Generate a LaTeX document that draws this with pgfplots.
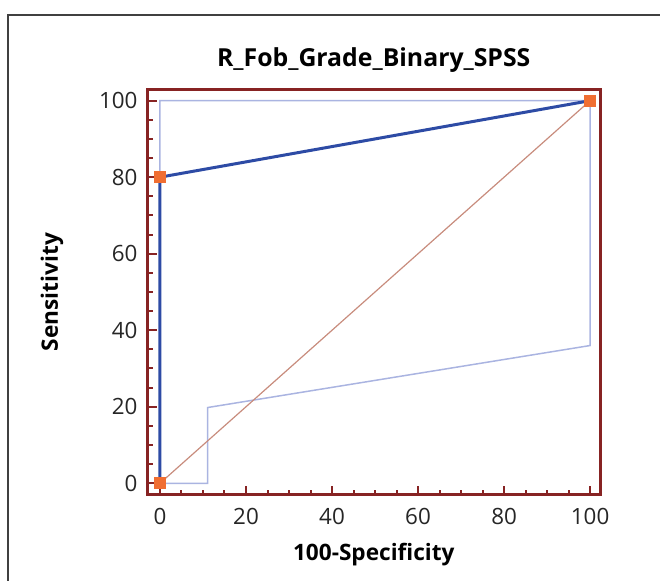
\documentclass[border=0pt]{standalone}
\usepackage{fontspec}
\setmainfont{Open Sans}
\usepackage{pgfplots}
\pgfplotsset{compat=1.18}
\definecolor{axred}{RGB}{135,35,35}
\definecolor{rocblue}{RGB}{45,75,165}
\definecolor{bandblue}{RGB}{170,180,225}
\definecolor{diagcol}{RGB}{200,140,125}
\definecolor{markorange}{RGB}{240,110,50}
\begin{document}
\begin{tikzpicture}[x=1pt,y=1pt]
\useasboundingbox (0,0) rectangle (330,290.5);
\clip (0,0) rectangle (330,290.5);
% outer frame
\draw[black!75, line width=0.7pt] (4,283) rectangle (345,-10);
\begin{axis}[
    at={(73.75pt,43pt)}, anchor=south west,
    scale only axis,
    width=226.25pt, height=202.9pt,
    xmin=-2.9, xmax=102.3,
    ymin=-3.06, ymax=103,
    xtick={0,20,40,60,80,100},
    ytick={0,20,40,60,80,100},
    minor x tick num=3, minor y tick num=3,
    xtick pos=bottom, ytick pos=left,
    tick align=inside,
    major tick length=4.5pt, minor tick length=2.5pt,
    every tick/.style={axred, line width=1pt},
    axis line style={axred, line width=1.5pt},
    tick label style={font=\fontsize{11.2}{13}\selectfont, text=black!85},
    /pgf/number format/assume math mode=true,
    xticklabel style={yshift=-3pt},
    yticklabel style={xshift=-1.5pt},
    title={\textbf{R\_Fob\_Grade\_Binary\_SPSS}},
    title style={font=\fontsize{12.4}{14}\selectfont, yshift=-1pt},
    xlabel={\textbf{100-Specificity}},
    ylabel={\textbf{Sensitivity}},
    label style={font=\fontsize{11.3}{13}\selectfont},
    xlabel style={yshift=-2.5pt},
    ylabel style={yshift=11pt},
    clip=false,
]
% confidence band
\addplot[bandblue, line width=0.75pt] coordinates {
    (0,0) (0,100) (100,100) (100,36) (11.1,19.8) (11.1,0) (0,0)
};
% diagonal reference
\addplot[diagcol, line width=0.6pt] coordinates {(0,0) (100,100)};
% ROC curve
\addplot[rocblue, line width=1.5pt, mark=square*, mark size=2.3pt,
    mark options={markorange, draw=markorange}] coordinates {
    (0,0) (0,80) (100,100)
};
\end{axis}
\end{tikzpicture}
\end{document}
